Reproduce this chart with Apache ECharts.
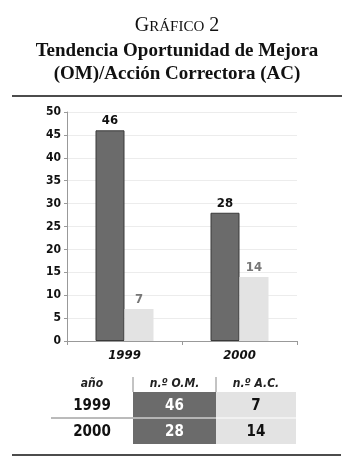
<!DOCTYPE html>
<html>
<head>
<meta charset="utf-8">
<script src="https://cdn.jsdelivr.net/npm/echarts@6/dist/echarts.min.js"></script>
<style>
html,body{margin:0;padding:0;background:#fff;}
#main{width:354px;height:470px;}
</style>
</head>
<body>
<div id="main"></div>
<script>
var years = ['1999', '2000'];
var omValues = [46, 28];
var acValues = [7, 14];
var yTicks = [0, 5, 10, 15, 20, 25, 30, 35, 40, 45, 50];
var tableHead = ['año', 'n.º O.M.', 'n.º A.C.'];

var narrow = '"Liberation Sans Narrow", "DejaVu Sans Condensed", "Liberation Sans", sans-serif';
var serif = '"Liberation Serif", "DejaVu Serif", serif';

var myChart = echarts.init(document.getElementById('main'));

// tabla de abajo
var graphics = [];
var colX = [51, 133, 216, 296];
var rowY = [392, 418, 444];
for (var h = 0; h < tableHead.length; h++) {
	graphics.push({
		type: 'text',
		style: {text: tableHead[h], x: (colX[h] + colX[h + 1]) / 2, y: 384, align: 'center', verticalAlign: 'middle',
			font: 'italic bold 12px ' + narrow, fill: '#222'}
	});
}
graphics.push({type: 'line', shape: {x1: 133, y1: 377, x2: 133, y2: 392}, style: {stroke: '#888', lineWidth: 1}});
graphics.push({type: 'line', shape: {x1: 216, y1: 377, x2: 216, y2: 392}, style: {stroke: '#888', lineWidth: 1}});
for (var i = 0; i < years.length; i++) {
	var y0 = rowY[i], y1 = rowY[i + 1];
	graphics.push({type: 'rect', shape: {x: colX[1], y: y0, width: colX[2] - colX[1], height: y1 - y0}, style: {fill: '#6b6b6b'}});
	graphics.push({type: 'rect', shape: {x: colX[2], y: y0, width: colX[3] - colX[2], height: y1 - y0}, style: {fill: '#e3e3e3'}});
	var cells = [years[i], String(omValues[i]), String(acValues[i])];
	var fills = ['#111', '#fff', '#111'];
	for (var c = 0; c < 3; c++) {
		graphics.push({
			type: 'text', z: 10,
			style: {text: cells[c], x: (colX[c] + colX[c + 1]) / 2, y: (y0 + y1) / 2 + 1, align: 'center', verticalAlign: 'middle',
				font: 'bold 15px ' + narrow, fill: fills[c]}
		});
	}
}
graphics.push({type: 'line', z: 11, shape: {x1: 51, y1: 418, x2: 296, y2: 418}, style: {stroke: '#fff', lineWidth: 1}});
graphics.push({type: 'line', z: 12, shape: {x1: 51, y1: 418, x2: 133, y2: 418}, style: {stroke: '#777', lineWidth: 1}});
// titulos y reglas
graphics.push({type: 'text', style: {
	text: '{a|G}{b|RÁFICO}{a|\u00a02}', x: 177, y: 26, align: 'center', verticalAlign: 'middle',
	rich: {a: {font: '20px ' + serif, fill: '#111'}, b: {font: '15px ' + serif, fill: '#111', padding: [3, 0, 0, 0]}}
}});
graphics.push({type: 'text', style: {text: 'Tendencia Oportunidad de Mejora', x: 177, y: 51, align: 'center', verticalAlign: 'middle', font: 'bold 19px ' + serif, fill: '#111'}});
graphics.push({type: 'text', style: {text: '(OM)/Acción Correctora (AC)', x: 177, y: 74, align: 'center', verticalAlign: 'middle', font: 'bold 19px ' + serif, fill: '#111'}});
graphics.push({type: 'line', shape: {x1: 12, y1: 96, x2: 342, y2: 96}, style: {stroke: '#111', lineWidth: 1.5}});
graphics.push({type: 'line', shape: {x1: 12, y1: 455, x2: 341, y2: 455}, style: {stroke: '#111', lineWidth: 1.5}});

var option = {
	animation: false,
	backgroundColor: '#fff',
	grid: {left: 67, right: 57, top: 112, bottom: 129},
	xAxis: {
		type: 'category',
		data: years,
		axisLine: {lineStyle: {color: '#999'}},
		axisTick: {show: true, length: 4, lineStyle: {color: '#999'}},
		axisLabel: {fontFamily: narrow, fontStyle: 'italic', fontWeight: 'bold', fontSize: 13, color: '#111', margin: 8}
	},
	yAxis: {
		type: 'value', min: 0, max: 50, interval: 5,
		axisLine: {show: true, lineStyle: {color: '#999'}},
		axisTick: {show: true, length: 3, lineStyle: {color: '#999'}},
		splitLine: {lineStyle: {color: '#ececec'}},
		axisLabel: {fontFamily: narrow, fontWeight: 'bold', fontSize: 12, color: '#111', margin: 6}
	},
	series: [
		{
			name: 'n.º O.M.', type: 'bar', data: omValues, barWidth: 29, barGap: '0%',
			itemStyle: {color: '#6b6b6b', borderColor: '#3a3a3a', borderWidth: 1},
			label: {show: true, position: 'top', fontFamily: narrow, fontWeight: 'bold', fontSize: 13, color: '#111', distance: 3}
		},
		{
			name: 'n.º A.C.', type: 'bar', data: acValues, barWidth: 29,
			itemStyle: {color: '#e3e3e3'},
			label: {show: true, position: 'top', fontFamily: narrow, fontWeight: 'bold', fontSize: 13, color: '#777', distance: 3}
		}
	],
	graphic: graphics
};
myChart.setOption(option, true);
</script>
</body>
</html>
